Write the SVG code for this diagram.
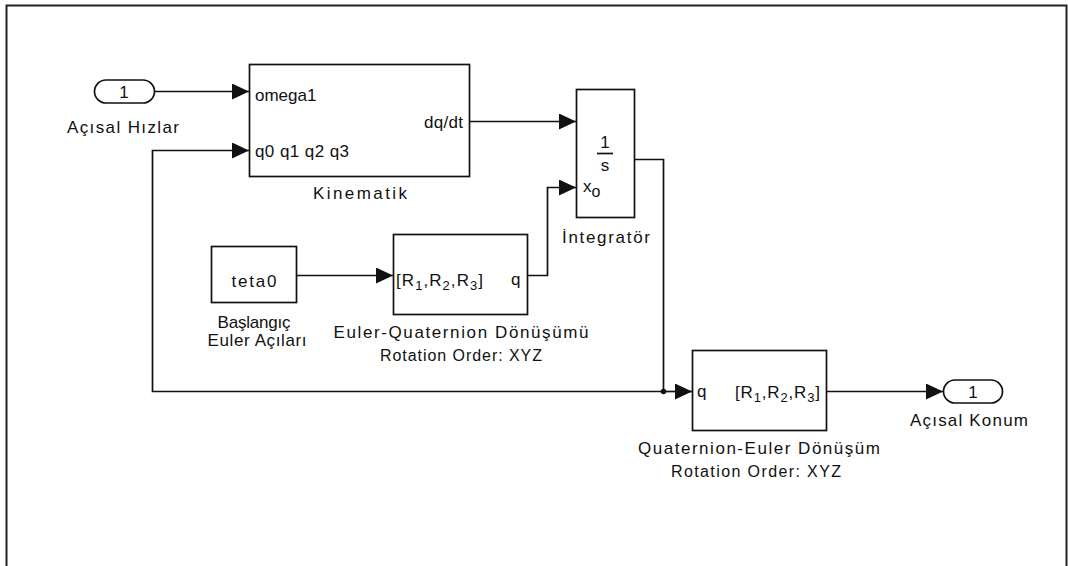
<svg xmlns="http://www.w3.org/2000/svg" width="1068" height="566" viewBox="0 0 1068 566">
<defs>
<style>
text{font-family:"Liberation Sans",Arial,sans-serif;font-size:17px;fill:#111}
.sm{font-size:16px}
.blk{fill:#fff;stroke:#111;stroke-width:1.7}
.ln{fill:none;stroke:#111;stroke-width:1.7}
.m{text-anchor:middle}
</style>
<marker id="arr" markerWidth="17" markerHeight="16" refX="17" refY="8" orient="auto" markerUnits="userSpaceOnUse">
<path d="M0,0 L17,8 L0,16 z" fill="#111"/>
</marker>
</defs>
<rect x="0" y="0" width="1068" height="566" fill="#fff"/>
<rect x="6.5" y="5.5" width="1060" height="620" fill="none" stroke="#222" stroke-width="2"/>

<g id="connectors">
<path class="ln" d="M154,91.5 H249" marker-end="url(#arr)"/>
<path class="ln" d="M470,121.5 H576" marker-end="url(#arr)"/>
<path class="ln" d="M635,159.5 H663.5 V391.5"/>
<path class="ln" d="M297,275.5 H393" marker-end="url(#arr)"/>
<path class="ln" d="M528,275.5 H547.5 V187.5 H576" marker-end="url(#arr)"/>
<path class="ln" d="M663.5,391.5 H152.5 V150.5 H249" marker-end="url(#arr)"/>
<path class="ln" d="M663.5,391.5 H692" marker-end="url(#arr)"/>
<path class="ln" d="M827,391.5 H943" marker-end="url(#arr)"/>
<circle cx="663.5" cy="391.5" r="2.8" fill="#111"/>
</g>

<g id="in1">
<rect class="blk" x="94.5" y="80" width="60" height="23" rx="11.5"/>
<text class="m" x="124" y="98">1</text>
<text class="m" x="123" y="133" textLength="112" lengthAdjust="spacing">Açısal Hızlar</text>
</g>

<g id="kinematik">
<rect class="blk" x="249.5" y="64.5" width="220" height="112"/>
<text x="255" y="101">omega1</text>
<text x="255" y="157" textLength="94" lengthAdjust="spacing">q0 q1 q2 q3</text>
<text x="424" y="128" textLength="39" lengthAdjust="spacing">dq/dt</text>
<text class="m" x="360" y="199" textLength="94" lengthAdjust="spacing">Kinematik</text>
</g>

<g id="integrator">
<rect class="blk" x="576.5" y="89.5" width="58" height="128"/>
<text class="m" x="605" y="148">1</text>
<line x1="597" y1="153.5" x2="613" y2="153.5" stroke="#111" stroke-width="1.7"/>
<text class="m" x="605" y="171">s</text>
<text x="583" y="192">x<tspan dy="5" font-size="16">o</tspan></text>
<text class="m" x="606" y="243" textLength="88" lengthAdjust="spacing">İntegratör</text>
</g>

<g id="teta0">
<rect class="blk" x="211.5" y="246.5" width="85" height="56"/>
<text class="m" x="254" y="287" textLength="45" lengthAdjust="spacing">teta0</text>
<text class="m" x="254" y="328" textLength="73" lengthAdjust="spacing">Başlangıç</text>
<text class="m" x="257" y="346" textLength="99" lengthAdjust="spacing">Euler Açıları</text>
</g>

<g id="euler2quat">
<rect class="blk" x="393.5" y="234.5" width="134" height="80"/>
<text x="396" y="286" textLength="87" lengthAdjust="spacing">[R<tspan dy="4" font-size="13">1</tspan><tspan dy="-4">,R</tspan><tspan dy="4" font-size="13">2</tspan><tspan dy="-4">,R</tspan><tspan dy="4" font-size="13">3</tspan><tspan dy="-4">]</tspan></text>
<text x="511" y="285">q</text>
<text class="m" x="461" y="338" textLength="255" lengthAdjust="spacing">Euler-Quaternion Dönüşümü</text>
<text class="m sm" x="461" y="361" textLength="162" lengthAdjust="spacing">Rotation Order: XYZ</text>
</g>

<g id="quat2euler">
<rect class="blk" x="692.5" y="350.5" width="134" height="80"/>
<text x="697" y="397">q</text>
<text x="735" y="398" textLength="85" lengthAdjust="spacing">[R<tspan dy="4" font-size="13">1</tspan><tspan dy="-4">,R</tspan><tspan dy="4" font-size="13">2</tspan><tspan dy="-4">,R</tspan><tspan dy="4" font-size="13">3</tspan><tspan dy="-4">]</tspan></text>
<text class="m" x="759" y="454" textLength="242" lengthAdjust="spacing">Quaternion-Euler Dönüşüm</text>
<text class="m sm" x="756" y="477" textLength="170" lengthAdjust="spacing">Rotation Order: XYZ</text>
</g>

<g id="out1">
<rect class="blk" x="943.5" y="380" width="59" height="23" rx="11.5"/>
<text class="m" x="973" y="398">1</text>
<text class="m" x="969" y="426" textLength="118" lengthAdjust="spacing">Açısal Konum</text>
</g>
</svg>
